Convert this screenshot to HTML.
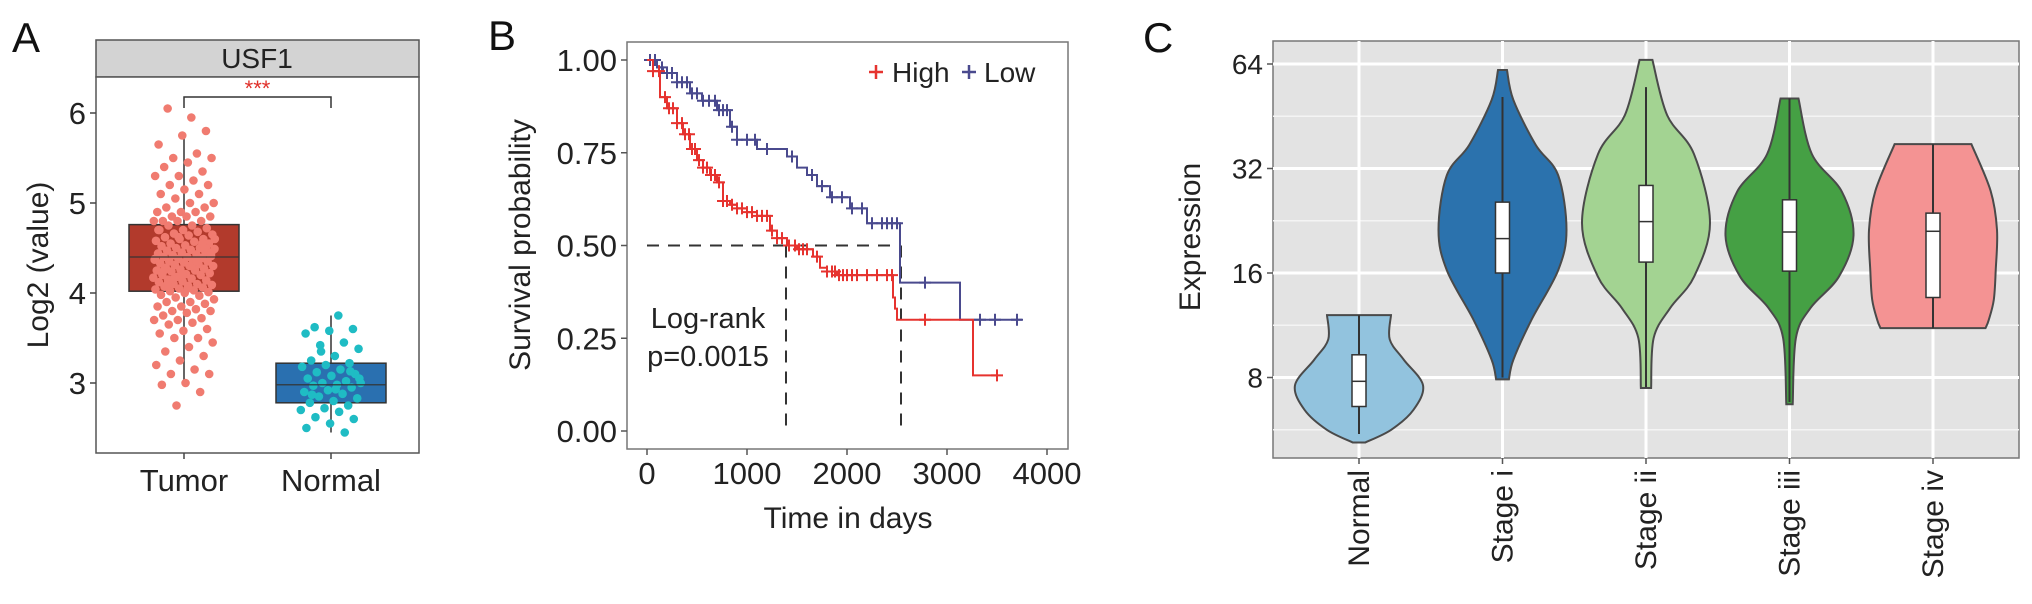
<!DOCTYPE html>
<html><head><meta charset="utf-8">
<style>
html,body{margin:0;padding:0;background:#fff;}
svg{display:block;font-family:"Liberation Sans",Arial,sans-serif;}
</style></head>
<body>
<svg id="fig" width="2032" height="604" viewBox="0 0 2032 604" xmlns="http://www.w3.org/2000/svg">
  <text x="12" y="52" font-size="42" fill="#111">A</text>
  <text x="488" y="50" font-size="42" fill="#111">B</text>
  <text x="1143" y="52" font-size="42" fill="#111">C</text>

  <g id="panelA">
    <rect x="96" y="40" width="323" height="37" fill="#d3d3d3" stroke="#555" stroke-width="1.5"/>
    <text x="257" y="68" font-size="28" text-anchor="middle" fill="#222">USF1</text>
    <rect x="96" y="77" width="323" height="376" fill="#fff" stroke="#555" stroke-width="1.5"/>
    <text transform="translate(48,265) rotate(-90)" font-size="30" text-anchor="middle" fill="#222">Log2 (value)</text>
  </g>

  <g id="panelB">
    <rect x="627" y="42" width="441" height="407" fill="#fff" stroke="#777" stroke-width="1.5"/>
    <text transform="translate(530,245) rotate(-90)" font-size="30" text-anchor="middle" fill="#222">Survival probability</text>
    <text x="848" y="528" font-size="30" text-anchor="middle" fill="#222">Time in days</text>
    <text x="708" y="328" font-size="29" text-anchor="middle" fill="#222">Log-rank</text>
    <text x="708" y="366" font-size="29" text-anchor="middle" fill="#222">p=0.0015</text>
  </g>

  <g id="panelC">
    <rect x="1273" y="41" width="746" height="417" fill="#e3e3e3" stroke="#777" stroke-width="1.5"/>
    <text transform="translate(1200,237) rotate(-90)" font-size="30" text-anchor="middle" fill="#222">Expression</text>
  </g>
</svg>
<script>
const aCategories = ["Tumor","Normal"];
const aQ1 = [4.02, 2.78];
const aMedian = [4.40, 2.98];
const aQ3 = [4.76, 3.22];
const aWhiskerLow = [3.00, 2.45];
const aWhiskerHigh = [5.78, 3.75];
const aTumorValues = [5.95,6.05,5.80,5.75,5.65,5.55,5.50,5.50,5.45,5.40,5.35,5.30,5.30,5.25,5.20,5.20,5.15,5.10,5.10,5.05,5.00,5.00,4.95,4.95,4.90,4.90,4.90,4.85,4.85,4.85,4.80,4.80,4.80,4.80,4.75,4.75,4.72,4.70,4.70,4.68,4.66,4.65,4.64,4.62,4.60,4.60,4.58,4.57,4.55,4.55,4.53,4.52,4.50,4.50,4.49,4.48,4.47,4.45,4.45,4.44,4.43,4.42,4.41,4.40,4.40,4.39,4.38,4.37,4.36,4.35,4.35,4.34,4.33,4.32,4.31,4.30,4.30,4.28,4.27,4.26,4.25,4.25,4.24,4.22,4.21,4.20,4.20,4.18,4.17,4.16,4.15,4.14,4.13,4.12,4.10,4.10,4.09,4.08,4.07,4.06,4.05,4.04,4.03,4.02,4.01,4.00,3.98,3.97,3.95,3.93,3.90,3.90,3.88,3.85,3.85,3.82,3.80,3.80,3.78,3.75,3.72,3.70,3.70,3.67,3.65,3.60,3.58,3.55,3.50,3.50,3.45,3.40,3.35,3.30,3.25,3.20,3.15,3.10,3.10,3.00,2.98,2.90,2.75,4.60,4.30,4.10,4.50,4.20,4.70,4.35,4.15,4.45,4.05,4.25,4.55,4.62,4.38];
const aNormalValues = [3.75,3.62,3.60,3.58,3.55,3.45,3.42,3.38,3.30,3.25,3.22,3.20,3.18,3.15,3.12,3.10,3.08,3.05,3.02,3.00,3.00,2.98,2.97,2.95,2.92,2.90,2.88,2.85,2.83,2.80,2.78,2.75,2.72,2.70,2.68,2.62,2.60,2.55,2.50,2.45,3.35,3.05,2.93,2.87,3.13];
const aTicks = [3,4,5,6];

const highTimes = [0,60,130,200,300,360,430,500,560,630,700,760,830,900,1000,1100,1230,1300,1400,1500,1660,1730,1800,1900,2460,2480,2500,3260];
const highSurv  = [1,0.97,0.90,0.87,0.83,0.80,0.76,0.73,0.71,0.69,0.67,0.62,0.61,0.60,0.59,0.58,0.54,0.52,0.50,0.49,0.47,0.44,0.43,0.42,0.36,0.33,0.30,0.15];
const highEnd = 3500;
const highCensor = [60,120,180,220,260,300,350,380,420,450,480,520,560,600,640,680,720,760,800,850,900,950,1000,1050,1100,1150,1200,1250,1300,1350,1420,1480,1520,1560,1600,1700,1800,1850,1880,1920,1960,2000,2050,2100,2200,2300,2400,2450,2780,3500];
const lowTimes = [0,100,160,300,430,550,700,830,900,1100,1400,1500,1600,1700,1830,2030,2200,2530,3130];
const lowSurv  = [1,0.98,0.965,0.94,0.91,0.89,0.865,0.82,0.785,0.76,0.74,0.71,0.69,0.66,0.63,0.60,0.56,0.40,0.30];
const lowEnd = 3750;
const lowCensor = [30,80,150,200,250,300,350,400,450,500,560,620,680,720,760,800,850,900,1000,1080,1200,1450,1650,1750,1850,1950,2050,2150,2250,2350,2400,2450,2500,2780,3330,3480,3700];
const bXTicks = [0,1000,2000,3000,4000];
const bYTicks = [0,0.25,0.5,0.75,1];
const bYTickLabels = ["0.00","0.25","0.50","0.75","1.00"];
const medianHigh = 1390;
const medianLow = 2540;

const cCategories = ["Normal","Stage i","Stage ii","Stage iii","Stage iv"];
const cColors = ["#92c3de","#2b72ad","#a3d392","#45a044","#f49393"];
const cLevels = [
  [12.1,10.3,9.0,7.6,6.45,5.65,5.2],
  [61.5,50.4,37.4,30.6,21.3,16.3,11.7,9.0,7.9],
  [65.8,45.6,35.2,22.3,15.6,12.7,10.4,7.46],
  [50.9,35.2,27.4,20.5,15.6,12.7,10.4,6.7],
  [37.6,27.6,21.3,16.3,13.4,11.7,11.1]
];
const cWidths = [
  [0.5,0.48,0.7,1,0.85,0.5,0.1],
  [0.07,0.17,0.52,0.87,1,0.87,0.45,0.17,0.1],
  [0.1,0.33,0.75,1,0.75,0.38,0.12,0.08],
  [0.14,0.35,0.82,1,0.77,0.33,0.1,0.05],
  [0.6,0.9,1,0.98,0.95,0.87,0.82]
];
const cQ1 = [6.6,16.0,17.2,16.2,13.6];
const cMedian = [7.8,20.1,22.5,21.0,21.1];
const cQ3 = [9.3,25.6,28.6,26.0,23.8];
const cWhiskerLow = [5.5,8.0,7.5,6.8,11.1];
const cWhiskerHigh = [12.1,51.4,54.9,50.9,37.6];
const cTicks = [8,16,32,64];

const NS = "http://www.w3.org/2000/svg";
const svg = document.getElementById("fig");
function mk(tag, attrs, parent){
  const e = document.createElementNS(NS, tag);
  for (const k in attrs) e.setAttribute(k, attrs[k]);
  (parent||svg).appendChild(e);
  return e;
}

const aY = v => 113 + (6 - v) * 90;
const aX = i => [184, 331][i];
const gA = document.getElementById("panelA");
aTicks.forEach(t => {
  const tk = mk("line", {x1:90, x2:96, y1:aY(t), y2:aY(t), stroke:"#444", "stroke-width":1.5}, gA);
  
  
  const lb = mk("text", {x:86, y:aY(t)+11, "font-size":31, "text-anchor":"end", fill:"#222"}, gA);
  lb.textContent = t;
  
  
});
const boxFill = ["#b23a2c", "#2a70b0"];
const dotFill = ["#f07b70", "#1fbcc4"];
aCategories.forEach((c, i) => {
  const cx = aX(i);
  const tk = mk("line", {x1:cx, x2:cx, y1:453, y2:459, stroke:"#444", "stroke-width":1.5}, gA);
  
  
  const lb = mk("text", {x:cx, y:491, "font-size":31, "text-anchor":"middle", fill:"#222"}, gA);
  lb.textContent = c;
  
  
  const wh = mk("line", {x1:cx, x2:cx, y1:aY(aWhiskerHigh[i]), y2:aY(aWhiskerLow[i]), stroke:"#333", "stroke-width":1.5}, gA);
  
  
  const bx = mk("rect", {x:cx-55, y:aY(aQ3[i]), width:110, height:aY(aQ1[i])-aY(aQ3[i]), fill:boxFill[i], stroke:"#333", "stroke-width":1.5}, gA);
  
  
  const vals = i === 0 ? aTumorValues : aNormalValues;
  vals.forEach((v, j) => {
    const off = (((j + 1) * 0.618034) % 1 - 0.5) * 62;
    const d = mk("circle", {cx:cx+off, cy:aY(v), r:4.3, fill:dotFill[i]}, gA);
    
    
  });
  const md = mk("line", {x1:cx-55, x2:cx+55, y1:aY(aMedian[i]), y2:aY(aMedian[i]), stroke:"#333", "stroke-width":1.5, opacity:0.8}, gA);
  
  
});
const br = mk("path", {d:`M${aX(0)},108 V97 H${aX(1)} V108`, fill:"none", stroke:"#333", "stroke-width":1.5}, gA);


const st = mk("text", {x:(aX(0)+aX(1))/2, y:96, "font-size":22, "text-anchor":"middle", fill:"#e0302a"}, gA);
st.textContent = "***";



const bX = d => 647 + d * 0.1;
const bY = p => 431 - p * 371;
const gB = document.getElementById("panelB");
bYTicks.forEach((t, i) => {
  const tk = mk("line", {x1:621, x2:627, y1:bY(t), y2:bY(t), stroke:"#555", "stroke-width":1.5}, gB);
  
  
  const lb = mk("text", {x:617, y:bY(t)+11, "font-size":31, "text-anchor":"end", fill:"#222"}, gB);
  lb.textContent = bYTickLabels[i];
  
  
});
bXTicks.forEach(t => {
  const tk = mk("line", {x1:bX(t), x2:bX(t), y1:449, y2:455, stroke:"#555", "stroke-width":1.5}, gB);
  
  
  const lb = mk("text", {x:bX(t), y:484, "font-size":31, "text-anchor":"middle", fill:"#222"}, gB);
  lb.textContent = t;
  
  
});
const dash = {fill:"none", stroke:"#333", "stroke-width":2, "stroke-dasharray":"12,9"};
const dh = mk("path", Object.assign({d:`M${bX(0)},${bY(0.5)} H${bX(medianLow)}`}, dash), gB);


const dv1 = mk("path", Object.assign({d:`M${bX(medianHigh)},${bY(0.5)} V${bY(0)}`}, dash), gB);


const dv2 = mk("path", Object.assign({d:`M${bX(medianLow)},${bY(0.5)} V${bY(0)}`}, dash), gB);


function survAt(times, surv, t){ let s = surv[0]; for (let i=0;i<times.length;i++){ if (times[i] <= t) s = surv[i]; } return s; }
function drawKM(times, surv, end, censor, color, name){
  let d = `M${bX(times[0])},${bY(surv[0])}`;
  for (let i=1;i<times.length;i++){ d += ` H${bX(times[i])} V${bY(surv[i])}`; }
  d += ` H${bX(end)}`;
  const p = mk("path", {d, fill:"none", stroke:color, "stroke-width":2}, gB);
  
  
  censor.forEach(t => {
    const x = bX(t), y = bY(survAt(times, surv, t));
    const m = mk("path", {d:`M${x-6},${y} H${x+6} M${x},${y-6} V${y+6}`, stroke:color, "stroke-width":2}, gB);
    
    
  });
}
drawKM(lowTimes, lowSurv, lowEnd, lowCensor, "#4a4a8e", "low");
drawKM(highTimes, highSurv, highEnd, highCensor, "#e6332f", "high");
const lg = mk("g", {}, gB);


[[876,"#e6332f","High",892],[969,"#4a4a8e","Low",984]].forEach(([mx,col,txt,tx]) => {
  const m = mk("path", {d:`M${mx-7},72 H${mx+7} M${mx},65 V79`, stroke:col, "stroke-width":2.5}, lg);
  
  
  const t = mk("text", {x:tx, y:82, "font-size":28, fill:"#222"}, lg);
  t.textContent = txt;
  
  
});

const cY = v => 64 + (6 - Math.log2(v)) * 104.5;
const cX = i => 1359 + i * 143.5;
const gC = document.getElementById("panelC");
[5.657, 11.314, 22.627, 45.255].forEach(v => {
  const g = mk("line", {x1:1273, x2:2019, y1:cY(v), y2:cY(v), stroke:"#f4f4f4", "stroke-width":1.5}, gC);
  
  
});
cTicks.forEach(t => {
  const g = mk("line", {x1:1273, x2:2019, y1:cY(t), y2:cY(t), stroke:"#fff", "stroke-width":3}, gC);
  
  
  const tk = mk("line", {x1:1267, x2:1273, y1:cY(t), y2:cY(t), stroke:"#555", "stroke-width":1.5}, gC);
  
  
  const lb = mk("text", {x:1263, y:cY(t)+10, "font-size":28, "text-anchor":"end", fill:"#222"}, gC);
  lb.textContent = t;
  
  
});
cCategories.forEach((c, i) => {
  const g = mk("line", {x1:cX(i), x2:cX(i), y1:41, y2:458, stroke:"#fff", "stroke-width":3}, gC);
  
  
});
function smooth(pts){
  let d = "";
  for (let i=0;i<pts.length-1;i++){
    const p0 = pts[Math.max(0,i-1)], p1 = pts[i], p2 = pts[i+1], p3 = pts[Math.min(pts.length-1,i+2)];
    const c1 = [p1[0]+(p2[0]-p0[0])/6, p1[1]+(p2[1]-p0[1])/6];
    const c2 = [p2[0]-(p3[0]-p1[0])/6, p2[1]-(p3[1]-p1[1])/6];
    d += ` C${c1[0]},${c1[1]} ${c2[0]},${c2[1]} ${p2[0]},${p2[1]}`;
  }
  return d;
}
cCategories.forEach((c, i) => {
  const cx = cX(i), half = 64;
  const right = cLevels[i].map((v, k) => [cx + cWidths[i][k]*half, cY(v)]);
  const left = cLevels[i].map((v, k) => [cx - cWidths[i][k]*half, cY(v)]).reverse();
  const d = `M${right[0][0]},${right[0][1]}` + smooth(right) + ` L${left[0][0]},${left[0][1]}` + smooth(left) + " Z";
  const v = mk("path", {d, fill:cColors[i], stroke:"#4a4a4a", "stroke-width":2}, gC);
  
  
  const wh = mk("line", {x1:cx, x2:cx, y1:cY(cWhiskerHigh[i]), y2:cY(cWhiskerLow[i]), stroke:"#333", "stroke-width":2}, gC);
  
  
  const bx = mk("rect", {x:cx-7, y:cY(cQ3[i]), width:14, height:cY(cQ1[i])-cY(cQ3[i]), fill:"#fff", stroke:"#333", "stroke-width":1.5}, gC);
  
  
  const md = mk("line", {x1:cx-7, x2:cx+7, y1:cY(cMedian[i]), y2:cY(cMedian[i]), stroke:"#333", "stroke-width":1.5}, gC);
  
  
  const tk = mk("line", {x1:cx, x2:cx, y1:458, y2:464, stroke:"#555", "stroke-width":1.5}, gC);
  
  
  const lb = mk("text", {transform:`translate(${cx+10},470) rotate(-90)`, "font-size":30, "text-anchor":"end", fill:"#222"}, gC);
  lb.textContent = c;
  
  
});
</script>
</body></html>
